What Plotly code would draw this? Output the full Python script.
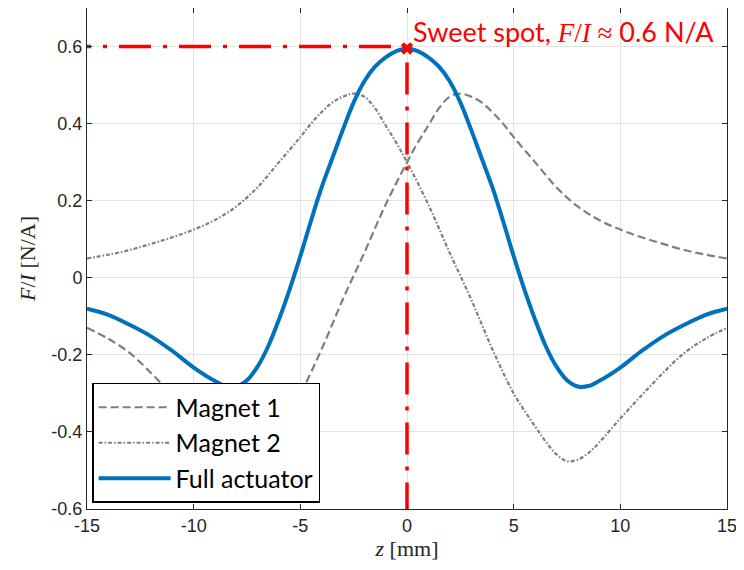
import plotly.graph_objects as go

# force constant F/I [N/A] vs position z [mm]
z_m2 = [-15, -14, -13, -12, -11, -10, -9, -8, -7, -6, -5, -4.5, -4, -3.5, -3, -2.5, -2,
        -1.5, -1, -0.5, 0, 1, 2, 3, 4, 5, 6, 6.5, 7, 7.5, 8, 8.5, 9, 10, 11, 12, 13, 14, 15]
magnet2 = [0.05, 0.06, 0.072, 0.088, 0.105, 0.125, 0.15, 0.185, 0.235, 0.30, 0.365, 0.40,
           0.43, 0.455, 0.47, 0.478, 0.47, 0.44, 0.395, 0.35, 0.30, 0.19, 0.065, -0.055,
           -0.185, -0.30, -0.385, -0.425, -0.458, -0.476, -0.472, -0.455, -0.428, -0.365,
           -0.305, -0.247, -0.195, -0.158, -0.13]

z_m1 = [-15, -14, -13, -12, -11, -10, -9, -8.5, -8, -7.5, -7, -6.5, -6, -5, -4, -3, -2,
        -1, 0, 0.5, 1, 1.5, 2, 2.5, 3, 3.5, 4, 4.5, 5, 6, 7, 8, 9, 10, 11, 12, 13, 14, 15]
magnet1 = [-0.13, -0.158, -0.195, -0.247, -0.305, -0.365, -0.428, -0.455, -0.472, -0.476,
           -0.458, -0.425, -0.385, -0.30, -0.185, -0.055, 0.065, 0.19, 0.30, 0.35, 0.395,
           0.44, 0.47, 0.478, 0.47, 0.455, 0.43, 0.40, 0.365, 0.30, 0.235, 0.185, 0.15,
           0.125, 0.105, 0.088, 0.072, 0.06, 0.05]

z_full = [-15, -14, -13, -12, -11, -10, -9, -8.5, -8, -7.5, -7, -6.5, -6, -5.5, -5, -4.5,
          -4, -3.5, -3, -2.5, -2, -1.5, -1, -0.5, 0, 0.5, 1, 1.5, 2, 2.5, 3, 3.5, 4, 4.5,
          5, 5.5, 6, 6.5, 7, 7.5, 8, 8.5, 9, 10, 11, 12, 13, 14, 15]
full = [-0.08, -0.096, -0.122, -0.152, -0.19, -0.233, -0.268, -0.281, -0.282, -0.266, -0.23,
        -0.177, -0.108, -0.03, 0.056, 0.148, 0.235, 0.31, 0.385, 0.455, 0.51, 0.548, 0.572,
        0.588, 0.595, 0.588, 0.572, 0.548, 0.51, 0.455, 0.385, 0.31, 0.235, 0.148, 0.056,
        -0.03, -0.108, -0.177, -0.23, -0.266, -0.282, -0.281, -0.268, -0.233, -0.19, -0.152,
        -0.122, -0.096, -0.08]

sweet_z = 0
sweet_val = 0.595
hline_z = [0, -15]
hline_val = [0.6, 0.6]
vline_z = [0, 0]
vline_val = [0.6, -0.6]

y_ticks = [-0.6, -0.4, -0.2, 0, 0.2, 0.4, 0.6]
y_ticklabels = ['-0.6', '-0.4', '-0.2', '0', '0.2', '0.4', '0.6']
x_ticks = [-15, -10, -5, 0, 5, 10, 15]
x_ticklabels = ['-15', '-10', '-5', '0', '5', '10', '15']

serif = 'Liberation Serif'
red = '#ff0000'
gray = '#7f7f7f'
red_dash = '4px,12px,32px,12px'

fig = go.Figure()
fig.add_trace(go.Scatter(x=z_m1, y=magnet1, name='Magnet 1', mode='lines',
                         line=dict(color=gray, width=2.2, dash='8px,4px', shape='spline')))
fig.add_trace(go.Scatter(x=z_m2, y=magnet2, name='Magnet 2', mode='lines',
                         line=dict(color=gray, width=2.2, dash='4px,2px,1.5px,2px', shape='spline')))
fig.add_trace(go.Scatter(x=z_full, y=full, name='Full actuator', mode='lines',
                         line=dict(color='#0072BD', width=4, shape='spline')))
fig.add_trace(go.Scatter(x=hline_z, y=hline_val, mode='lines', showlegend=False,
                         line=dict(color=red, width=3.5, dash=red_dash)))
fig.add_trace(go.Scatter(x=vline_z, y=vline_val, mode='lines', showlegend=False,
                         line=dict(color=red, width=3.5, dash=red_dash)))
fig.add_trace(go.Scatter(x=[sweet_z], y=[sweet_val], mode='markers', showlegend=False,
                         marker=dict(symbol='x', color=red, size=11)))

fig.add_annotation(x=sweet_z, y=sweet_val, xref='x', yref='y', xanchor='left', yanchor='bottom',
                   xshift=4, yshift=-2, showarrow=False,
                   text="Sweet spot, <span style='font-family:Liberation Serif'><i>F</i>/<i>I</i> ≈</span> 0.6 N/A",
                   font=dict(family='Lato', size=27, color=red))

axis_style = dict(showline=True, linecolor='#262626', linewidth=1, mirror='ticks',
                  ticks='inside', ticklen=5, tickcolor='#262626', automargin=False,
                  showgrid=True, gridcolor='#e3e3e3', gridwidth=1, zeroline=False,
                  tickfont=dict(family='Liberation Sans', size=18, color='#262626'))
fig.update_xaxes(range=[-15, 15], tickvals=x_ticks, ticktext=x_ticklabels,
                 title=dict(text='<i>z</i> [mm]', font=dict(family=serif, size=22, color='#262626'),
                            standoff=4), **axis_style)
fig.update_yaxes(range=[-0.6, 0.7], tickvals=y_ticks, ticktext=y_ticklabels,
                 title=dict(text='<i>F</i>/<i>I</i> [N/A]', font=dict(family=serif, size=22, color='#262626'),
                            standoff=9), **axis_style)

# the page body adds an 8px offset, so margins are shifted to compensate
fig.update_layout(width=744, height=570, plot_bgcolor='white', paper_bgcolor='white',
                  margin=dict(l=79, r=25, t=0, b=69),
                  legend=dict(x=0.008, y=0.012, xanchor='left', yanchor='bottom',
                              bgcolor='white', bordercolor='black', borderwidth=1.5,
                              font=dict(family='Lato', size=25, color='black'),
                              itemwidth=72, tracegroupgap=0))
fig.write_html("out.html")
